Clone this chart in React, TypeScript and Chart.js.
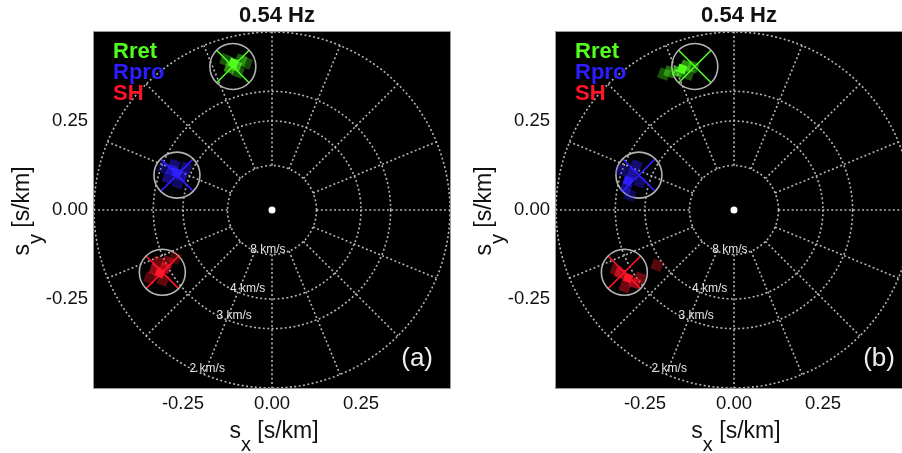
import React, { useEffect, useRef } from "react";
import { Chart, registerables } from "chart.js";

Chart.register(...registerables);

const FONT = '"Liberation Sans", Arial, Helvetica, sans-serif';

const FREQUENCY = "0.54 Hz";
const PHASES = ["Rret", "Rpro", "SH"];
const PHASE_RGB = [
  [80, 255, 30],
  [45, 30, 255],
  [255, 20, 40],
];
// reference velocities of the dotted slowness rings (km/s)
const RING_SPEEDS = [8, 4, 3, 2];
const TICK_VALUES = [-0.25, 0, 0.25];
const SPOKE_COUNT = 16;

// expected slowness of each phase (s/km), shown by the grey rings and crosses
const EXPECTED_SX = [-0.11, -0.267, -0.308];
const EXPECTED_SY = [0.403, 0.098, -0.175];

// beam power cells, panel (a): slowness (s/km) and relative power
const A_RRET_SX = [-0.108, -0.101, -0.118, -0.087, -0.129, -0.073, -0.096];
const A_RRET_SY = [0.413, 0.405, 0.399, 0.421, 0.421, 0.413, 0.388];
const A_RRET_P = [1.0, 0.6, 0.5, 0.3, 0.25, 0.2, 0.25];

const A_RPRO_SX = [-0.267, -0.281, -0.253, -0.292, -0.275, -0.242, -0.303, -0.264];
const A_RPRO_SY = [0.104, 0.112, 0.096, 0.09, 0.126, 0.118, 0.118, 0.076];
const A_RPRO_P = [1.0, 0.6, 0.5, 0.4, 0.35, 0.3, 0.25, 0.3];

const A_SH_SX = [-0.315, -0.3, -0.329, -0.292, -0.32, -0.306, -0.272, -0.343];
const A_SH_SY = [-0.177, -0.163, -0.169, -0.146, -0.146, -0.197, -0.135, -0.191];
const A_SH_P = [1.0, 0.6, 0.5, 0.35, 0.35, 0.3, 0.2, 0.25];

// beam power cells, panel (b)
const B_RRET_SX = [-0.146, -0.157, -0.135, -0.18, -0.197, -0.115, -0.129];
const B_RRET_SY = [0.396, 0.388, 0.405, 0.388, 0.382, 0.402, 0.382];
const B_RRET_P = [1.0, 0.6, 0.5, 0.35, 0.25, 0.3, 0.25];

const B_RPRO_SX = [-0.298, -0.287, -0.303, -0.275, -0.315, -0.264, -0.292];
const B_RPRO_SY = [0.082, 0.101, 0.062, 0.124, 0.112, 0.079, 0.042];
const B_RPRO_P = [1.0, 0.55, 0.45, 0.35, 0.3, 0.3, 0.25];

const B_SH_SX = [-0.298, -0.32, -0.278, -0.264, -0.306, -0.216, -0.331];
const B_SH_SY = [-0.191, -0.177, -0.205, -0.191, -0.216, -0.155, -0.169];
const B_SH_P = [1.0, 0.6, 0.5, 0.35, 0.35, 0.25, 0.3];

const AXIS_LIMIT = 0.5;
const B_X_MAX = 0.472; // right panel is cut at the page edge

type Cells = { sx: number[]; sy: number[]; p: number[] }[];

const PANELS = [
  {
    tag: "(a)",
    xMax: AXIS_LIMIT,
    canvasLeft: 0,
    yAxisWidth: 94,
    padRight: 1,
    cells: [
      { sx: A_RRET_SX, sy: A_RRET_SY, p: A_RRET_P },
      { sx: A_RPRO_SX, sy: A_RPRO_SY, p: A_RPRO_P },
      { sx: A_SH_SX, sy: A_SH_SY, p: A_SH_P },
    ] as Cells,
  },
  {
    tag: "(b)",
    xMax: B_X_MAX,
    canvasLeft: 451,
    yAxisWidth: 105,
    padRight: 0,
    cells: [
      { sx: B_RRET_SX, sy: B_RRET_SY, p: B_RRET_P },
      { sx: B_RPRO_SX, sy: B_RPRO_SY, p: B_RPRO_P },
      { sx: B_SH_SX, sy: B_SH_SY, p: B_SH_P },
    ] as Cells,
  },
];

const rgba = (c: number[], a: number) => `rgba(${c[0]},${c[1]},${c[2]},${a})`;

function cellDataset(cells: { sx: number[]; sy: number[]; p: number[] }, rgb: number[]) {
  const order = cells.p.map((_, i) => i).sort((a, b) => cells.p[a] - cells.p[b]);
  return {
    data: order.map((i) => ({ x: cells.sx[i], y: cells.sy[i] })),
    pointStyle: "rect",
    pointRotation: 20,
    pointRadius: order.map((i) => 6 + 2 * (1 - cells.p[i])),
    pointBackgroundColor: order.map((i) => rgba(rgb, 0.12 + 0.88 * cells.p[i])),
    pointBorderWidth: 0,
  };
}

function drawAxisTitle(
  ctx: CanvasRenderingContext2D,
  sub: string,
  cx: number,
  cy: number,
  angle: number
) {
  ctx.save();
  ctx.translate(cx, cy);
  ctx.rotate(angle);
  ctx.fillStyle = "#111";
  ctx.textAlign = "left";
  ctx.textBaseline = "alphabetic";
  const big = `23px ${FONT}`;
  const small = `20px ${FONT}`;
  ctx.font = big;
  const wS = ctx.measureText("s").width;
  const wRest = ctx.measureText(" [s/km]").width;
  ctx.font = small;
  const wSub = ctx.measureText(sub).width;
  let x = -(wS + wSub + wRest) / 2;
  ctx.font = big;
  ctx.fillText("s", x, 0);
  x += wS;
  ctx.font = small;
  ctx.fillText(sub, x, 13);
  x += wSub;
  ctx.font = big;
  ctx.fillText(" [s/km]", x, 0);
  ctx.restore();
}

function Panel({ panel }: { panel: (typeof PANELS)[number] }) {
  const ref = useRef<HTMLCanvasElement>(null);

  useEffect(() => {
    if (!ref.current) return;

    const decor = {
      id: "slownessDecor",
      beforeDatasetsDraw(chart: any) {
        const { ctx, chartArea: a, scales } = chart;
        const x = scales.x;
        const y = scales.y;
        ctx.save();
        ctx.fillStyle = "#000";
        ctx.fillRect(a.left, a.top, a.right - a.left, a.bottom - a.top);
        ctx.beginPath();
        ctx.rect(a.left, a.top, a.right - a.left, a.bottom - a.top);
        ctx.clip();
        const cx = x.getPixelForValue(0);
        const cy = y.getPixelForValue(0);
        const k = x.getPixelForValue(1) - cx;
        ctx.strokeStyle = "rgba(195,195,195,0.95)";
        ctx.lineWidth = 1.6;
        ctx.setLineDash([1.9, 2.5]);
        for (const v of RING_SPEEDS) {
          ctx.beginPath();
          ctx.arc(cx, cy, k / v, 0, Math.PI * 2);
          ctx.stroke();
        }
        const r0 = 1 / Math.max(...RING_SPEEDS);
        const r1 = 1 / Math.min(...RING_SPEEDS);
        for (let i = 0; i < SPOKE_COUNT; i++) {
          const t = (i * Math.PI * 2) / SPOKE_COUNT;
          const c = Math.cos(t);
          const s = Math.sin(t);
          ctx.beginPath();
          ctx.moveTo(cx + k * r0 * c, cy - k * r0 * s);
          ctx.lineTo(cx + k * r1 * c, cy - k * r1 * s);
          ctx.stroke();
        }
        ctx.restore();
      },
      afterDatasetsDraw(chart: any) {
        const { ctx, chartArea: a, scales } = chart;
        const x = scales.x;
        const y = scales.y;
        const cx = x.getPixelForValue(0);
        const cy = y.getPixelForValue(0);
        const k = x.getPixelForValue(1) - cx;
        ctx.save();
        // ring velocity labels
        ctx.font = `12px ${FONT}`;
        ctx.fillStyle = "#e4e4e4";
        ctx.textAlign = "left";
        ctx.textBaseline = "alphabetic";
        const ang = (243 * Math.PI) / 180;
        for (const v of RING_SPEEDS) {
          const r = 1 / v + 0.01;
          ctx.fillText(`${v} km/s`, cx + k * r * Math.cos(ang), cy - k * r * Math.sin(ang));
        }
        // phase legend
        ctx.font = `bold 22px ${FONT}`;
        PHASES.forEach((name, i) => {
          ctx.fillStyle = rgba(PHASE_RGB[i], 1);
          ctx.fillText(name, a.left + 19, a.top + 26 + 21 * i);
        });
        // panel tag
        ctx.font = `26px ${FONT}`;
        ctx.fillStyle = "#eeeeee";
        ctx.textAlign = "right";
        ctx.textBaseline = "middle";
        ctx.fillText(panel.tag, x.getPixelForValue(AXIS_LIMIT) - 17, a.bottom - 29);
        ctx.restore();
      },
      afterDraw(chart: any) {
        const { ctx, chartArea: a, scales } = chart;
        const x = scales.x;
        const cx = x.getPixelForValue(0);
        const cy = scales.y.getPixelForValue(0);
        ctx.save();
        // frame
        ctx.strokeStyle = "#9a9a9a";
        ctx.lineWidth = 1;
        const l = x.getPixelForValue(-AXIS_LIMIT);
        const r = x.getPixelForValue(AXIS_LIMIT);
        ctx.strokeRect(l - 0.5, a.top - 0.5, r - l + 1, a.bottom - a.top + 1);
        // title
        ctx.font = `bold 22px ${FONT}`;
        ctx.fillStyle = "#111";
        ctx.textAlign = "center";
        ctx.textBaseline = "alphabetic";
        ctx.fillText(FREQUENCY, cx + 5, 22);
        ctx.restore();
        drawAxisTitle(ctx, "x", cx + 2, 438, 0);
        drawAxisTitle(ctx, "y", a.left - 65, cy + 1, -Math.PI / 2);
      },
    };

    const datasets: any[] = panel.cells.map((c, i) => cellDataset(c, PHASE_RGB[i]));
    datasets.push({
      data: EXPECTED_SX.map((v, i) => ({ x: v, y: EXPECTED_SY[i] })),
      pointStyle: "circle",
      pointRadius: 23,
      pointBackgroundColor: "rgba(0,0,0,0)",
      pointBorderColor: "#b4b4b4",
      pointBorderWidth: 1.6,
    });
    datasets.push({
      data: EXPECTED_SX.map((v, i) => ({ x: v, y: EXPECTED_SY[i] })),
      pointStyle: "crossRot",
      pointRadius: 23,
      pointBorderColor: PHASE_RGB.map((c) => rgba(c, 1)),
      pointBorderWidth: 1.6,
    });
    datasets.push({
      data: [{ x: 0, y: 0 }],
      pointStyle: "circle",
      pointRadius: 3.5,
      pointBackgroundColor: "#ffffff",
      pointBorderWidth: 0,
    });

    const tickFont = { family: FONT, size: 18.5 };
    const fixTicks = (scale: any) => {
      scale.ticks = TICK_VALUES.map((v) => ({ value: v }));
    };

    const chart = new Chart(ref.current, {
      type: "scatter",
      data: { datasets },
      options: {
        responsive: false,
        animation: false,
        events: [],
        layout: {
          autoPadding: false,
          padding: { top: 32, right: panel.padRight, bottom: 0, left: 0 },
        },
        plugins: { legend: { display: false }, tooltip: { enabled: false } },
        scales: {
          x: {
            type: "linear",
            min: -AXIS_LIMIT,
            max: panel.xMax,
            grid: { display: false, drawTicks: false },
            border: { display: false },
            afterBuildTicks: fixTicks,
            afterFit: (s: any) => {
              s.height = 65;
              s.paddingLeft = 0;
              s.paddingRight = 0;
            },
            ticks: {
              font: tickFont,
              color: "#111",
              padding: 5,
              maxRotation: 0,
              callback: (v: any) => Number(v).toFixed(2),
            },
          },
          y: {
            type: "linear",
            min: -AXIS_LIMIT,
            max: AXIS_LIMIT,
            grid: { display: false, drawTicks: false },
            border: { display: false },
            afterBuildTicks: fixTicks,
            afterFit: (s: any) => {
              s.width = panel.yAxisWidth;
              s.paddingTop = 0;
              s.paddingBottom = 0;
            },
            ticks: {
              font: tickFont,
              color: "#111",
              padding: 6,
              callback: (v: any) => Number(v).toFixed(2),
            },
          },
        },
      },
      plugins: [decor],
    } as any);

    return () => chart.destroy();
  }, [panel]);

  return (
    <canvas
      ref={ref}
      width={451}
      height={453}
      style={{ position: "absolute", left: panel.canvasLeft, top: 0, width: 451, height: 453 }}
    />
  );
}

export default function App() {
  return (
    <div
      style={{
        position: "absolute",
        left: 0,
        top: 0,
        width: 902,
        height: 453,
        background: "#ffffff",
        overflow: "hidden",
      }}
    >
      {PANELS.map((p) => (
        <Panel key={p.tag} panel={p} />
      ))}
    </div>
  );
}
